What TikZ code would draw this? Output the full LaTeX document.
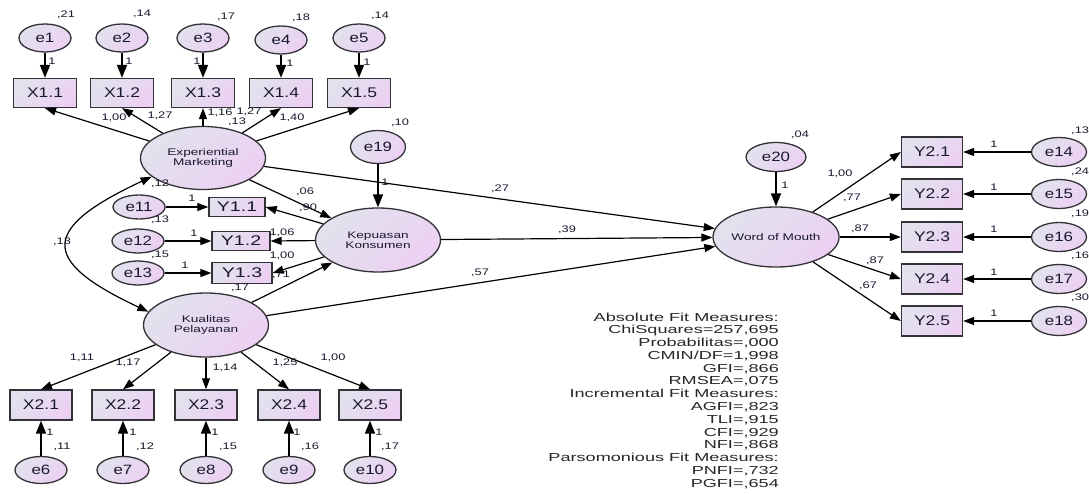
\documentclass[tikz,border=0pt]{standalone}
\usepackage{fontspec}
\setmainfont{Liberation Sans}
\newfontfamily\amosE[FakeStretch=1.25]{Liberation Sans}
\newfontfamily\amosY[FakeStretch=1.4]{Liberation Sans}
\newfontfamily\amosL[FakeStretch=1.42]{Liberation Sans}
\newfontfamily\amosP[FakeStretch=1.35]{Liberation Sans}
\newfontfamily\amosF[FakeStretch=1.56]{Liberation Sans}
\usetikzlibrary{shapes.geometric,arrows.meta}
\definecolor{cA}{RGB}{226,226,238}
\definecolor{cB}{RGB}{236,208,242}
\definecolor{edgec}{RGB}{50,50,55}
\definecolor{txt}{RGB}{25,25,45}
\begin{document}
\begin{tikzpicture}[x=1pt,y=-1pt,
  every node/.style={text=txt,inner sep=0pt},
  shade2/.style={top color=cA,bottom color=cB,shading angle=45},
  errv/.style={ellipse,draw=edgec,line width=1.3pt,shade2,minimum width=52pt,minimum height=28pt,font=\amosE\fontsize{13.5}{14}\selectfont},
  latv/.style={ellipse,draw=edgec,line width=1.3pt,shade2,minimum width=125pt,minimum height=63pt,align=center,font=\amosL\fontsize{9.6}{10.5}\selectfont},
  obsv/.style={rectangle,draw=edgec,line width=1.3pt,shade2,minimum width=63pt,minimum height=29pt,font=\amosE\fontsize{14}{15}\selectfont},
  obsy/.style={rectangle,draw=edgec,line width=1.3pt,shade2,minimum width=57pt,minimum height=19pt,font=\amosY\fontsize{14}{15}\selectfont},
  pl/.style={font=\amosP\fontsize{9.5}{10}\selectfont},
  arr/.style={-{Triangle[length=11pt,width=8pt]},line width=1.2pt},
  earr/.style={-{Triangle[length=13pt,width=10pt]},line width=1.7pt},
  cov/.style={{Triangle[length=11pt,width=8pt]}-{Triangle[length=11pt,width=8pt]},line width=1.2pt}
]
\useasboundingbox (0,0) rectangle (1089,494);

% ---------- top indicators (Experiential Marketing)
\node[errv] (e1) at (45,38) {e1};
\node[errv] (e2) at (122,38) {e2};
\node[errv] (e3) at (203,38) {e3};
\node[errv] (e4) at (281,40) {e4};
\node[errv] (e5) at (359,38) {e5};
\node[obsv] (X11) at (45,93) {X1.1};
\node[obsv] (X12) at (122,93) {X1.2};
\node[obsv] (X13) at (203,93) {X1.3};
\node[obsv] (X14) at (281,93) {X1.4};
\node[obsv] (X15) at (359,93) {X1.5};
\foreach \i/\j in {1/11,2/12,3/13,4/14,5/15} \draw[earr] (e\i) -- (X\j);

\node[latv] (EM) at (203,158) {Experiential\\Marketing};
\foreach \j in {11,12,13,14,15} \draw[arr] (EM) -- (X\j.south);

% ---------- Kepuasan Konsumen
\node[errv,minimum width=55pt,minimum height=33pt] (e19) at (378,147) {e19};
\node[latv,minimum height=64pt] (KK) at (378,240) {Kepuasan\\Konsumen};
\draw[earr] (e19) -- (KK);

\node[obsy,minimum width=56pt] (Y11) at (237,207) {Y1.1};
\node[obsy,minimum width=58pt] (Y12) at (241,241) {Y1.2};
\node[obsy,minimum width=60pt,minimum height=21pt] (Y13) at (242,273) {Y1.3};
\node[errv,minimum height=24pt] (e11) at (139,207) {e11};
\node[errv,minimum height=24pt] (e12) at (138,241) {e12};
\node[errv,minimum height=24pt] (e13) at (138,273) {e13};
\draw[arr] (e11) -- (Y11);
\draw[arr] (e12) -- (Y12);
\draw[arr] (e13) -- (Y13);
\draw[arr] (KK) -- (Y11.east);
\draw[arr] (KK) -- (Y12.east);
\draw[arr] (KK) -- (Y13.east);

% ---------- Kualitas Pelayanan
\node[latv,minimum height=64pt] (KP) at (206,325) {Kualitas\\Pelayanan};
\node[obsv,minimum width=62pt,minimum height=30pt] (X21) at (41,405) {X2.1};
\node[obsv,minimum width=62pt,minimum height=30pt] (X22) at (123,405) {X2.2};
\node[obsv,minimum width=62pt,minimum height=30pt] (X23) at (206,405) {X2.3};
\node[obsv,minimum width=62pt,minimum height=30pt] (X24) at (289,405) {X2.4};
\node[obsv,minimum width=62pt,minimum height=30pt] (X25) at (370,405) {X2.5};
\node[errv,minimum height=27pt] (e6) at (41,470) {e6};
\node[errv,minimum height=27pt] (e7) at (123,470) {e7};
\node[errv,minimum height=27pt] (e8) at (206,470) {e8};
\node[errv,minimum height=27pt] (e9) at (289,470) {e9};
\node[errv,minimum height=27pt] (e10) at (370,470) {e10};
\foreach \i/\j in {6/21,7/22,8/23,9/24,10/25} \draw[earr] (e\i) -- (X\j);
\foreach \j in {21,22,23,24,25} \draw[arr] (KP) -- (X\j.north);

\draw[arr] (EM) -- (KK);
\draw[arr] (KP) -- (KK);
\draw[cov] (EM.200) to[out=205,in=155,looseness=2.3] (KP.167);

% ---------- Word of Mouth
\node[latv,minimum width=122pt,minimum height=60pt] (WoM) at (776,237) {Word of Mouth};
\node[errv,minimum width=60pt,minimum height=29pt] (e20) at (776,157) {e20};
\draw[earr] (e20) -- (WoM);
\draw[arr] (EM) -- (WoM);
\draw[arr] (KK) -- (WoM);
\draw[arr] (KP) -- (WoM);
\foreach \k/\yy in {1/152,2/194,3/237,4/279,5/321}{
  \node[obsv,minimum width=61pt,minimum height=30pt] (Y2\k) at (932,\yy) {Y2.\k};
}
\foreach \k/\yy/\e in {1/152/14,2/194/15,3/237/16,4/279/17,5/321/18}{
  \node[errv,minimum width=55pt,minimum height=29pt] (e\e) at (1059,\yy) {e\e};
  \draw[arr] (e\e) -- (Y2\k);
  \draw[arr] (WoM) -- (Y2\k.west);
}

% ---------- labels
\begin{scope}[every node/.append style={pl}]
% top variances and weights
\node (v1) at (66,15) {,21};
\node (v2) at (142,14) {,14};
\node (v3) at (226,17) {,17};
\node (v4) at (301,18) {,18};
\node (v5) at (380,16) {,14};
\node (o1) at (52,61) {1};
\node (o2) at (129,61) {1};
\node (o3) at (197,61) {1};
\node (o4) at (290,63) {1};
\node (o5) at (367,62) {1};
\node (w11) at (114,118) {1,00};
\node (w12) at (160,116) {1,27};
\node (w13) at (220,113) {1,16};
\node (w14) at (249,112) {1,27};
\node (vEM) at (237,122) {,13};
\node (w15) at (292,118) {1,40};
% Kepuasan
\node (v19) at (400,123) {,10};
\node (o19) at (385,182) {1};
\node (pEK) at (305,192) {,06};
\node (wY1) at (308,208) {,90};
\node (wY2) at (282,233) {1,06};
\node (wY3) at (282,256) {1,00};
\node (pPK) at (281,275) {,71};
\node (v11) at (160,184) {,12};
\node (v12) at (160,220) {,13};
\node (v13) at (160,255) {,15};
\node (vKP) at (240,288) {,17};
\node (o11) at (192,198) {1};
\node (o12) at (194,233) {1};
\node (o13) at (185,265) {1};
\node (pEW) at (500,189) {,27};
\node (pKW) at (567,230) {,39};
\node (pPW) at (480,273) {,57};
\node (cEP) at (62,242) {,13};
% Kualitas
\node (w21) at (82,358) {1,11};
\node (w22) at (128,363) {1,17};
\node (w23) at (225,368) {1,14};
\node (w24) at (285,363) {1,25};
\node (w25) at (333,358) {1,00};
\node (o6) at (50,432) {1};
\node (o7) at (133,432) {1};
\node (o8) at (215,432) {1};
\node (o9) at (297,432) {1};
\node (o10) at (379,432) {1};
\node (v6) at (62,447) {,11};
\node (v7) at (145,447) {,12};
\node (v8) at (228,447) {,15};
\node (v9) at (310,447) {,16};
\node (v10) at (390,447) {,17};
% Word of Mouth
\node (v20) at (800,135) {,04};
\node (o20) at (785,185) {1};
\node (wW1) at (840,174) {1,00};
\node (wW2) at (852,198) {,77};
\node (wW3) at (860,229) {,87};
\node (wW4) at (875,261) {,87};
\node (wW5) at (868,286) {,67};
\node (o14) at (994,144) {1};
\node (o15) at (994,187) {1};
\node (o16) at (994,229) {1};
\node (o17) at (994,272) {1};
\node (o18) at (994,313) {1};
\node[anchor=west] (v14) at (1071,131) {,13};
\node[anchor=west] (v15) at (1071,172) {,24};
\node[anchor=west] (v16) at (1071,214) {,19};
\node[anchor=west] (v17) at (1071,256) {,16};
\node[anchor=west] (v18) at (1071,298) {,30};
\end{scope}

% ---------- fit measures
\node[anchor=north east,font=\amosF\fontsize{11.6}{12.77}\selectfont,text=black!85] (fit) at (779,312) {%
\begin{tabular}{@{}r@{}}
Absolute Fit Measures:\\
ChiSquares=257,695\\
Probabilitas=,000\\
CMIN/DF=1,998\\
GFI=,866\\
RMSEA=,075\\
Incremental Fit Measures:\\
AGFI=,823\\
TLI=,915\\
CFI=,929\\
NFI=,868\\
Parsomonious Fit Measures:\\
PNFI=,732\\
PGFI=,654
\end{tabular}};
\end{tikzpicture}
\end{document}
